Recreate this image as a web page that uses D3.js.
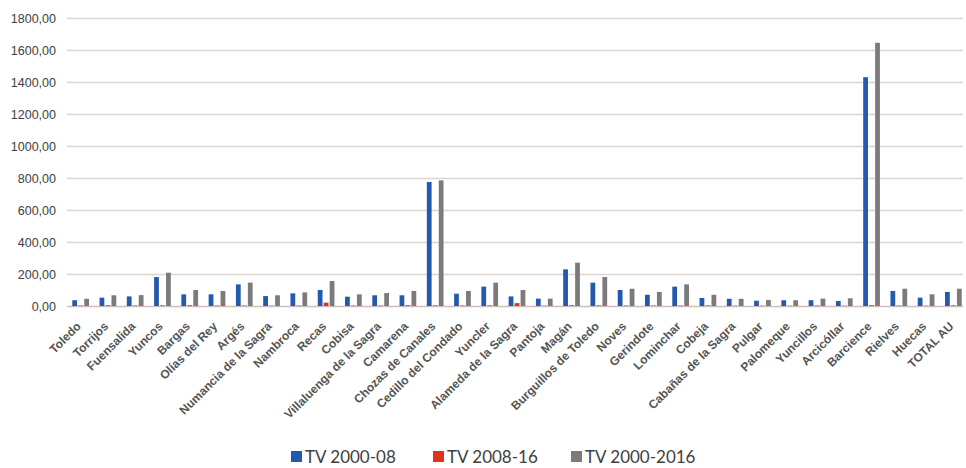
<!DOCTYPE html>
<html>
<head>
<meta charset="utf-8">
<script src="https://cdn.jsdelivr.net/npm/d3@7"></script>
<style>
  html, body { margin: 0; padding: 0; background: #fff; }
  svg { display: block; font-family: Lato, "Open Sans", sans-serif; }
</style>
</head>
<body>
<svg id="chart" width="966" height="468"></svg>
<script>
// Municipalities (x categories)
const categories = ["Toledo", "Torrijos", "Fuensalida", "Yuncos", "Bargas", "Olías del Rey", "Argés",
  "Numancia de la Sagra", "Nambroca", "Recas", "Cobisa", "Villaluenga de la Sagra", "Camarena",
  "Chozas de Canales", "Cedillo del Condado", "Yuncler", "Alameda de la Sagra", "Pantoja", "Magán",
  "Burguillos de Toledo", "Noves", "Gerindote", "Lominchar", "Cobeja", "Cabañas de la Sagra",
  "Pulgar", "Palomeque", "Yuncillos", "Arcicóllar", "Barcience", "Rielves", "Huecas", "TOTAL AU"];

// Growth rates (%) per period
const tv2000_08 = [36, 52, 60, 181, 73, 73, 135, 62, 79, 100, 58, 67, 67, 775, 77, 121, 60, 46, 229,
  146, 100, 70, 121, 50, 45, 33, 36, 36, 31, 1430, 94, 52, 88];
const tv2008_16 = [3, 5, 3, 4, 5, 3, 3, 2, 3, 21, 3, 3, 5, 4, 3, 4, 18, 2, 5,
  4, 3, 3, 3, 4, 2, 2, 2, 3, 2, 5, 3, 2, 4];
const tv2000_2016 = [45, 67, 68, 208, 100, 94, 146, 67, 85, 156, 73, 81, 94, 785, 94, 146, 100, 46, 271,
  181, 108, 88, 135, 70, 45, 38, 36, 46, 48, 1645, 108, 73, 108];

const seriesNames = ["TV 2000-08", "TV 2008-16", "TV 2000-2016"];
const seriesValues = [tv2000_08, tv2008_16, tv2000_2016];
const seriesColors = ["#2459b0", "#e0331f", "#7b7b7b"];

const yTicks = [0, 200, 400, 600, 800, 1000, 1200, 1400, 1600, 1800];

const svg = d3.select("#chart");
const margin = { left: 67, right: 967, top: 18, bottom: 306 };

const x0 = d3.scaleBand().domain(categories).range([margin.left, margin.right]).paddingInner(0.3).paddingOuter(0.15);
const x1 = d3.scaleBand().domain(d3.range(3)).range([0, x0.bandwidth()]).padding(0.2);
const y = d3.scaleLinear().domain([0, 1800]).range([margin.bottom, margin.top]);

const fmt = v => d3.format(".2f")(v).replace(".", ",");

// Gridlines and y labels
const yAxis = d3.axisLeft(y).tickValues(yTicks).tickFormat(fmt).tickSize(0).tickPadding(0);
const gy = svg.append("g").attr("transform", "translate(56,0)").call(yAxis);
gy.select(".domain").remove();
gy.selectAll("text").attr("fill", "#404040").style("font-size", "12.5px");

svg.append("g").selectAll("line").data(yTicks).join("line")
  .attr("x1", margin.left).attr("x2", 963)
  .attr("y1", d => y(d) + 0.5).attr("y2", d => y(d) + 0.5)
  .attr("stroke", d => d === 0 ? "#cdbfb8" : "#ddd3cf").attr("stroke-width", 1.5);

// Bars
const groups = svg.append("g").selectAll("g").data(categories).join("g")
  .attr("transform", d => `translate(${x0(d)},0)`);
groups.selectAll("rect")
  .data((d, i) => seriesValues.map((vals, s) => ({ s, v: vals[i] })))
  .join("rect")
  .attr("x", d => x1(d.s))
  .attr("width", x1.bandwidth())
  .attr("y", d => y(d.v))
  .attr("height", d => y(0) - y(d.v))
  .attr("fill", d => seriesColors[d.s]);

// Category labels, rotated
const xAxis = d3.axisBottom(x0).tickSize(0).tickPadding(0);
const gx = svg.append("g").attr("transform", `translate(0,${margin.bottom})`).call(xAxis);
gx.select(".domain").remove();
gx.selectAll("text")
  .attr("fill", "#555555")
  .style("font-size", "12px")
  .style("font-weight", "bold")
  .attr("text-anchor", "end")
  .attr("dy", 0)
  .attr("transform", "translate(1,21) rotate(-45)");

// Legend
const legendX = [291, 433, 571];
const legend = svg.append("g").selectAll("g").data(seriesNames).join("g")
  .attr("transform", (d, i) => `translate(${legendX[i]},457)`);
legend.append("rect").attr("x", 0).attr("y", -6).attr("width", 11).attr("height", 11)
  .attr("fill", (d, i) => seriesColors[i]);
legend.append("text").attr("x", 14).attr("y", 0).attr("dy", "0.35em")
  .attr("fill", "#404040").style("font-size", "17px").text(d => d);
</script>
</body>
</html>
